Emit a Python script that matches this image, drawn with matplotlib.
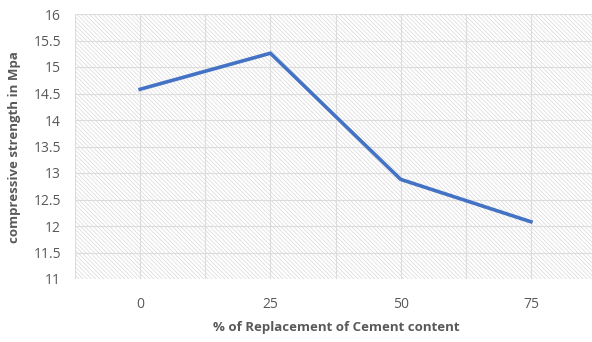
import matplotlib.pyplot as plt
from matplotlib.patches import Rectangle

# Compressive strength vs cement replacement
replacement = ["0", "25", "50", "75"]
strength = [14.58, 15.26, 12.88, 12.08]
yticks = [11, 11.5, 12, 12.5, 13, 13.5, 14, 14.5, 15, 15.5, 16]

plt.rcParams['font.family'] = ['Open Sans', 'DejaVu Sans']
grey = "#595959"

fig = plt.figure(figsize=(5.92, 3.42), dpi=100)
ax = fig.add_axes([75 / 592, 63 / 342, 521 / 592, 265 / 342])

# hatched plot area background
plt.rcParams['hatch.linewidth'] = 0.5
ax.add_patch(Rectangle((0, 0), 1, 1, transform=ax.transAxes, facecolor="white",
                       edgecolor="#d9d9d9", hatch="\\" * 8, linewidth=0, zorder=0))

x = list(range(len(replacement)))
ax.plot(x, strength, color="#4472C4", linewidth=2.6, solid_joinstyle="miter", zorder=3)

ax.set_xlim(-0.5, 3.5)
ax.set_ylim(11, 16)
ax.set_xticks(x)
ax.set_xticklabels(replacement)
ax.set_yticks(yticks)
ax.set_yticklabels([f"{t:g}" for t in yticks])

# grid lines every half step
for gx in [i * 0.5 - 0.5 for i in range(9)]:
    ax.axvline(gx, color="#dcdcdc", linewidth=0.8, zorder=1)
for gy in yticks:
    ax.axhline(gy, color="#dcdcdc", linewidth=0.8, zorder=1)

for s in ax.spines.values():
    s.set_visible(False)
ax.tick_params(axis="both", length=0, colors=grey, labelsize=10)
ax.tick_params(axis="x", pad=13)
ax.tick_params(axis="y", pad=10)

fig.text(336 / 592, 1 - 327 / 342, "% of Replacement of Cement content", ha="center", va="center",
         fontsize=9.5, fontweight="bold", color=grey)
fig.text(15 / 592, 1 - 147 / 342, "compressive strength in Mpa", ha="center", va="center",
         rotation=90, fontsize=9.5, fontweight="bold", color=grey)

fig.savefig("out.png", dpi=100)
